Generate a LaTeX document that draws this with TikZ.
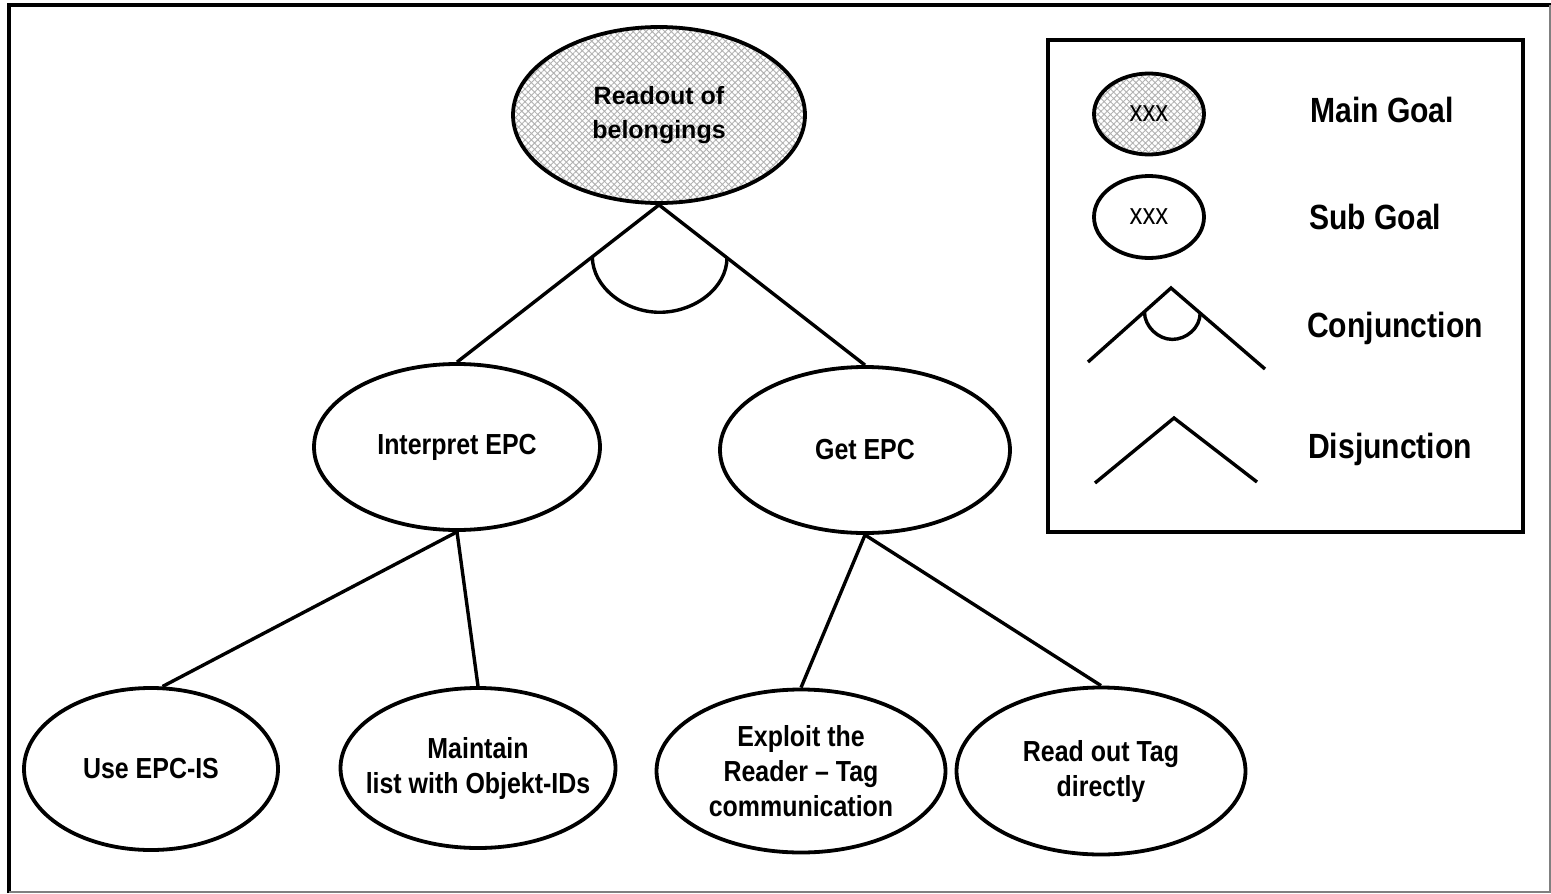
\documentclass[tikz,border=0pt]{standalone}
\usepackage{fontspec}
\setmainfont{Liberation Sans}
\newfontfamily\narrowfont[FakeStretch=0.86]{Liberation Sans}
\usetikzlibrary{shapes.geometric,calc,patterns.meta}

\begin{document}
\begin{tikzpicture}[x=1pt,y=-1pt,
  goal/.style={ellipse, draw, line width=3.8pt, inner sep=0pt},
  hatched/.style={preaction={fill=white},
    preaction={pattern={Hatch[angle=45,distance=4.5pt,line width=0.9pt]}, pattern color=gray!60}},
  goaltext/.style={inner sep=0pt, align=center, font=\narrowfont\bfseries\fontsize{29}{35}\selectfont},
  maintext/.style={inner sep=0pt, align=center, font=\bfseries\fontsize{25}{34}\selectfont},
  keytext/.style={inner sep=0pt, font=\narrowfont\fontsize{30}{30}\selectfont},
  legendlabel/.style={inner sep=0pt, anchor=base west, font=\narrowfont\bfseries\fontsize{35}{40}\selectfont},
  link/.style={line width=3.4pt}
]
\useasboundingbox (0,0) rectangle (1551,894);

% outer frame
\draw[line width=4pt] (9,893) -- (9,5) -- (1551,5);
\draw[gray, line width=1.5pt] (1550,5) -- (1550,892) -- (9,892);

% goal tree
\node[goal, hatched, minimum width=292, minimum height=176,
      label={[maintext]center:Readout of\\belongings}] (main) at (659,115) {};
\node[goal, minimum width=286, minimum height=166,
      label={[goaltext]center:Interpret EPC}] (ie) at (457,447) {};
\node[goal, minimum width=290, minimum height=166,
      label={[goaltext]center:Get EPC}] (ge) at (865,450) {};
\node[goal, minimum width=254, minimum height=162,
      label={[goaltext]center:Use EPC-IS}] (use) at (151,769) {};
\node[goal, minimum width=275, minimum height=160,
      label={[goaltext]center:Maintain\\list with Objekt-IDs}] (maint) at (478,768) {};
\node[goal, minimum width=289, minimum height=163,
      label={[goaltext]center:Exploit the\\Reader – Tag\\communication}] (expl) at (801,771) {};
\node[goal, minimum width=289, minimum height=167,
      label={[goaltext]center:Read out Tag\\directly}] (rd) at (1101,771) {};

% conjunction below the main goal
\draw[link] (main.south) -- (ie.north);
\draw[link] (main.south) -- (ge.north);
\coordinate (cl) at ($(main.south)!0.33!(ie.north)$);
\coordinate (cr) at ($(main.south)!0.33!(ge.north)$);
\coordinate (cb) at ($($(cl)!0.5!(cr)$)+(0,55)$);
\draw[link] (cl) .. controls ($(cl)+(0,30)$) and ($(cb)+(-35,0)$) .. (cb)
            .. controls ($(cb)+(35,0)$) and ($(cr)+(0,30)$) .. (cr);

% disjunctions
\draw[link] (ie.south) -- (use.82);
\draw[link] (ie.south) -- (maint.north);
\draw[link] (ge.south) -- (expl.north);
\draw[link] (ge.south) -- (rd.north);

% legend
\node[draw, line width=3.5pt, inner sep=0pt, minimum width=475, minimum height=492] (legend) at (1285.5,286) {};
\node[goal, hatched, minimum width=110, minimum height=81,
      label={[keytext]center:xxx}] (kmain) at (1149,114) {};
\node[goal, minimum width=110, minimum height=82,
      label={[keytext]center:xxx}] (ksub) at (1149,217) {};
\node[legendlabel] (lmain) at (1310,122) {Main Goal};
\node[legendlabel] (lsub) at (1309,229) {Sub Goal};
\node[legendlabel] (lconj) at (1307,337) {Conjunction};
\node[legendlabel] (ldisj) at (1308,458) {Disjunction};

% conjunction symbol
\coordinate (ca) at (1171,288);
\coordinate (cll) at (1088,362);
\coordinate (crr) at (1265,369);
\draw[link] (cll) -- (ca) -- (crr);
\coordinate (kl) at ($(ca)!0.32!(cll)$);
\coordinate (kr) at ($(ca)!0.31!(crr)$);
\coordinate (kb) at ($($(kl)!0.5!(kr)$)+(0,27)$);
\draw[link] (kl) .. controls ($(kl)+(0,15)$) and ($(kb)+(-14,0)$) .. (kb)
            .. controls ($(kb)+(14,0)$) and ($(kr)+(0,15)$) .. (kr);

% disjunction symbol
\coordinate (da) at (1174,418);
\coordinate (dl) at (1095,483);
\coordinate (dr) at (1257,482);
\draw[link] (dl) -- (da) -- (dr);
\end{tikzpicture}
\end{document}
